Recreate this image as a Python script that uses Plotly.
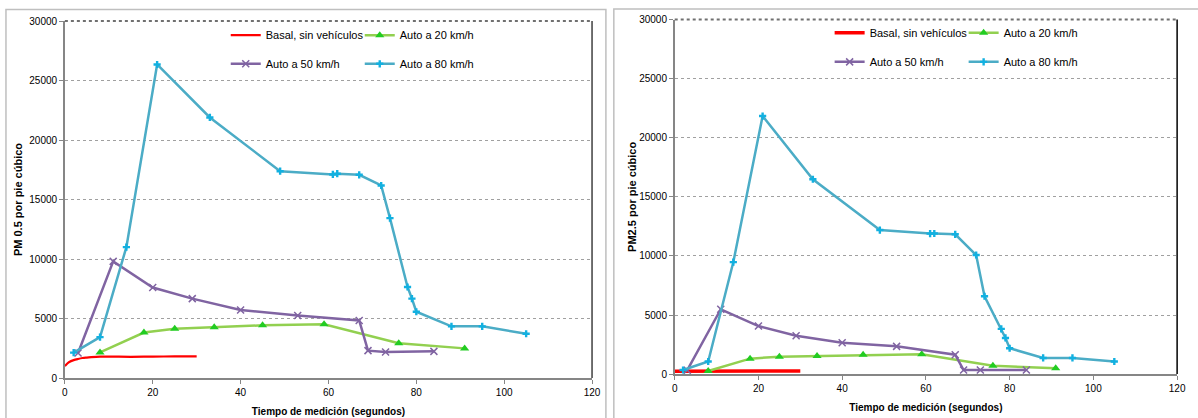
import plotly.graph_objects as go

W, H = 1198, 418

# ---------------- data: PM 0.5 (left panel) ----------------
pm05_basal_x = [0, 0.5, 1, 2, 3, 4, 5, 6, 8, 10, 15, 20, 25, 30]
pm05_basal_y = [1000, 1200, 1350, 1500, 1600, 1680, 1720, 1750, 1790, 1800, 1780, 1800, 1810, 1820]
pm05_20_x = [8, 18, 25, 34, 45, 59, 76, 91]
pm05_20_y = [2150, 3820, 4130, 4260, 4430, 4510, 2920, 2490]
pm05_50_x = [3, 11, 20, 29, 40, 53, 67, 69, 73, 84]
pm05_50_y = [2100, 9800, 7600, 6670, 5710, 5250, 4840, 2300, 2190, 2240]
pm05_80_x = [2, 8, 14, 21, 33, 49, 61, 62, 67, 72, 74, 78, 79, 80, 88, 95, 105]
pm05_80_y = [2130, 3440, 11000, 26350, 21900, 17380, 17110, 17170, 17080, 16180,
             13440, 7650, 6670, 5570, 4340, 4340, 3720]

# ---------------- data: PM 2.5 (right panel) ----------------
pm25_basal_x = [0, 5, 10, 15, 20, 25, 30]
pm25_basal_y = [240, 250, 250, 260, 260, 270, 270]
pm25_20_x = [8, 18, 25, 34, 45, 59, 76, 91]
pm25_20_y = [270, 1310, 1480, 1530, 1640, 1690, 710, 490]
pm25_50_x = [3, 11, 20, 29, 40, 53, 67, 69, 73, 84]
pm25_50_y = [330, 5490, 4070, 3250, 2650, 2350, 1640, 350, 350, 350]
pm25_80_x = [2, 8, 14, 21, 33, 49, 61, 62, 67, 72, 74, 78, 79, 80, 88, 95, 105]
pm25_80_y = [350, 1070, 9480, 21840, 16490, 12190, 11890, 11900, 11830, 10080,
             6590, 3830, 3060, 2190, 1370, 1370, 1070]

names = ["Basal, sin vehículos", "Auto a 20 km/h", "Auto a 50 km/h", "Auto a 80 km/h"]
x_ticks = [0, 20, 40, 60, 80, 100, 120]
y_ticks = [0, 5000, 10000, 15000, 20000, 25000, 30000]

C_RED = "#FF0000"
C_GREEN = "#92D050"
C_GREEN_M = "#22CC22"
C_PURPLE = "#8064A2"
C_BLUE = "#4BACC6"
C_BLUE_M = "#12B0E0"

FONT = "Liberation Sans"
fig = go.Figure()


def add_panel(xa, ya, lg1, lg2, basal, s20, s50, s80, smooth_basal):
    fig.add_trace(go.Scatter(
        x=basal[0], y=basal[1], name=names[0], mode="lines", xaxis=xa, yaxis=ya,
        legend=lg1, line=dict(color=C_RED, width=2.2 if smooth_basal else 3.5,
                              shape="spline" if smooth_basal else "linear")))
    fig.add_trace(go.Scatter(
        x=s20[0], y=s20[1], name=names[1], mode="lines+markers", xaxis=xa, yaxis=ya,
        legend=lg1, line=dict(color=C_GREEN, width=2.5),
        marker=dict(symbol="triangle-up", size=8, color=C_GREEN_M)))
    fig.add_trace(go.Scatter(
        x=s50[0], y=s50[1], name=names[2], mode="lines+markers", xaxis=xa, yaxis=ya,
        legend=lg2, line=dict(color=C_PURPLE, width=2.5),
        marker=dict(symbol="x-thin-open", size=7, color=C_PURPLE,
                    line=dict(color=C_PURPLE, width=1.5))))
    fig.add_trace(go.Scatter(
        x=s80[0], y=s80[1], name=names[3], mode="lines+markers", xaxis=xa, yaxis=ya,
        legend=lg2, line=dict(color=C_BLUE, width=2.5),
        marker=dict(symbol="cross", size=6, color=C_BLUE_M)))


add_panel("x", "y", "legend", "legend2",
          (pm05_basal_x, pm05_basal_y), (pm05_20_x, pm05_20_y),
          (pm05_50_x, pm05_50_y), (pm05_80_x, pm05_80_y), True)
add_panel("x2", "y2", "legend3", "legend4",
          (pm25_basal_x, pm25_basal_y), (pm25_20_x, pm25_20_y),
          (pm25_50_x, pm25_50_y), (pm25_80_x, pm25_80_y), False)

# plot-area pixel boxes
L = dict(x0=62.5, x1=595, top=15.5, bottom=383)
R = dict(x0=678.5, x1=1186, top=14, bottom=379)


def xdom(b):
    return [b["x0"] / W, b["x1"] / W]


def ydom(b):
    return [(H - b["bottom"]) / H, (H - b["top"]) / H]


axis_common = dict(showgrid=False, zeroline=False, showline=True, linecolor="#868686",
                   linewidth=1.5, ticks="outside", ticklen=4, tickcolor="#868686",
                   tickfont=dict(family=FONT, size=10, color="#000000"))

xcommon = dict(axis_common, range=[0, 120], tickvals=x_ticks,
               title=dict(text="<b>Tiempo de medición (segundos)</b>",
                          font=dict(family=FONT, size=10, color="#000000"), standoff=11))
ycommon = dict(axis_common, range=[0, 30000], tickvals=y_ticks, tickformat="d",
               showgrid=True, gridcolor="#A0A0A0", griddash="dot", gridwidth=1)

legend_common = dict(orientation="h", bgcolor="rgba(0,0,0,0)", borderwidth=0,
                     font=dict(family=FONT, size=11, color="#000000"),
                     entrywidth=89, entrywidthmode="pixels", itemwidth=30,
                     xanchor="left", yanchor="middle", itemclick=False)

fig.update_layout(
    width=W, height=H, margin=dict(l=0, r=0, t=0, b=0),
    paper_bgcolor="white", plot_bgcolor="white", showlegend=True,
    xaxis=dict(xcommon, domain=xdom(L), anchor="y"),
    yaxis=dict(ycommon, domain=ydom(L), anchor="x",
               title=dict(text="<b>PM 0.5 por pie cúbico</b>",
                          font=dict(family=FONT, size=11, color="#000000"), standoff=4)),
    xaxis2=dict(xcommon, domain=xdom(R), anchor="y2"),
    yaxis2=dict(ycommon, domain=ydom(R), anchor="x2",
                title=dict(text="<b>PM2.5 por pie cúbico</b>",
                           font=dict(family=FONT, size=11, color="#000000"), standoff=0)),
    legend=dict(legend_common, x=225 / W, y=1 - 30 / H),
    legend2=dict(legend_common, x=225 / W, y=1 - 59.5 / H),
    legend3=dict(legend_common, x=835 / W, y=1 - 27.5 / H),
    legend4=dict(legend_common, x=835 / W, y=1 - 57.5 / H),
)

shapes = []
# outer chart frames
shapes.append(dict(type="rect", xref="paper", yref="paper", x0=3 / W, x1=609 / W,
                   y0=-0.05, y1=1 - 3.5 / H, line=dict(color="#BFBFBF", width=1.5),
                   layer="below"))
shapes.append(dict(type="rect", xref="paper", yref="paper", x0=617 / W, x1=1.05,
                   y0=-0.05, y1=1 - 3 / H, line=dict(color="#BFBFBF", width=1.5),
                   layer="below"))
# top (dotted) and right borders of each plot area
for xa, col in (("x", "#404040"), ("x2", "#000000")):
    ya = "y" if xa == "x" else "y2"
    shapes.append(dict(type="line", xref=f"{xa} domain", yref=f"{ya} domain",
                       x0=0, x1=1, y0=1, y1=1, line=dict(color="#707070", width=2, dash="dot")))
    shapes.append(dict(type="line", xref=f"{xa} domain", yref=f"{ya} domain",
                       x0=1, x1=1, y0=0, y1=1, line=dict(color=col, width=1.5)))
fig.update_layout(shapes=shapes)

fig.write_html("out.html")
